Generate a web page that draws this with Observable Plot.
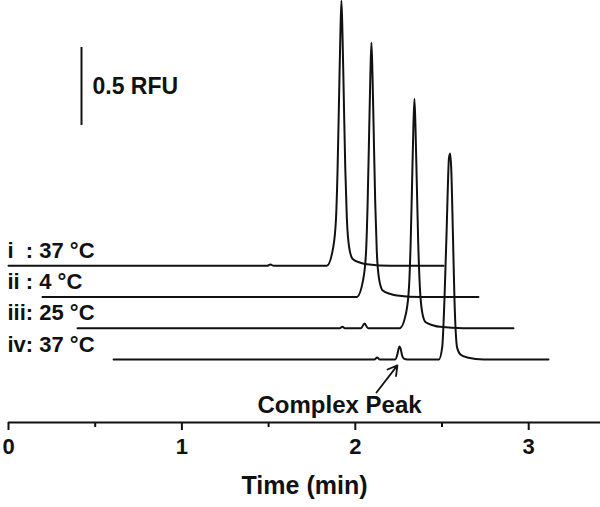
<!DOCTYPE html>
<html>
<head>
<meta charset="utf-8">
<script src="https://cdn.jsdelivr.net/npm/d3@7"></script>
<script src="https://cdn.jsdelivr.net/npm/@observablehq/plot@0.6"></script>
<style>
  html, body { margin: 0; padding: 0; background: #fff; }
  svg text { white-space: pre; }
</style>
</head>
<body>
<div id="chart"></div>
<script>
// ---- data (time in min as drawn on the axis, signal in RFU above each trace's baseline) ----
const traceIds = ["i", "ii", "iii", "iv"];
const traceLabels = ["i  : 37 °C", "ii : 4 °C", "iii: 25 °C", "iv: 37 °C"];
const traceOffsets = [0.6, 0.4, 0.2, 0]; // vertical stacking offsets (RFU)

const timeI = [0, 1.49, 1.511, 1.53, 1.835, 1.872, 1.889, 1.898, 1.906, 1.914, 1.920, 1.926, 1.934, 1.942, 1.951, 1.965, 1.985, 2.030, 2.068, 2.203, 2.509];
const rfuI  = [0, 0, 0.008, 0, 0, 0.115, 0.31, 0.63, 1.06, 1.49, 1.70, 1.49, 1.06, 0.63, 0.31, 0.115, 0.044, 0.02, 0.01, 0, 0];

const timeII = [0.196, 2.008, 2.045, 2.062, 2.071, 2.079, 2.087, 2.093, 2.099, 2.107, 2.115, 2.124, 2.138, 2.158, 2.203, 2.241, 2.376, 2.71];
const rfuII  = [0, 0, 0.11, 0.29, 0.60, 1.01, 1.43, 1.63, 1.43, 1.01, 0.60, 0.29, 0.11, 0.042, 0.02, 0.01, 0, 0];

const timeIII = [0.398, 1.91, 1.926, 1.94, 2.033, 2.053, 2.073, 2.256, 2.293, 2.310, 2.319, 2.327, 2.335, 2.341, 2.347, 2.355, 2.363, 2.372, 2.386, 2.406, 2.451, 2.489, 2.624, 2.912];
const rfuIII  = [0, 0, 0.01, 0, 0, 0.03, 0, 0, 0.10, 0.27, 0.54, 0.91, 1.29, 1.47, 1.29, 0.91, 0.54, 0.27, 0.10, 0.038, 0.018, 0.009, 0, 0];

const timeIV = [0.606, 2.11, 2.126, 2.14, 2.23, 2.243, 2.25, 2.255, 2.261, 2.27, 2.28, 2.30, 2.482, 2.501, 2.514, 2.526, 2.534, 2.540, 2.547, 2.553, 2.563, 2.572, 2.587, 2.606, 2.645, 2.741, 3.114];
const rfuIV  = [0, 0, 0.013, 0, 0, 0.035, 0.07, 0.083, 0.07, 0.025, 0.005, 0, 0, 0.077, 0.38, 0.80, 1.12, 1.29, 1.32, 1.23, 0.80, 0.38, 0.077, 0.032, 0.013, 0, 0];

const majorTicks = [0, 1, 2, 3];
const minorTicks = [0.5, 1.5, 2.5];
const xLabel = "Time (min)";

const scaleBarTime = 0.421;      // min
const scaleBarFrom = 1.5;        // RFU
const scaleBarSize = 0.5;        // RFU
const scaleBarText = "0.5 RFU";

const complexPeakText = "Complex Peak";
const complexTextPos = {t: 1.436, v: -0.295};
const complexArrow = {t1: 2.122, v1: -0.212, t2: 2.243, v2: -0.038};

const xDomain = [0, 3.414];
const yDomain = [-0.404, 2.301];

// ---- build tables ----
const times = [timeI, timeII, timeIII, timeIV];
const rfus = [rfuI, rfuII, rfuIII, rfuIV];
const rows = [];
traceIds.forEach((id, k) => {
  times[k].forEach((t, j) => rows.push({trace: id, t, v: rfus[k][j] + traceOffsets[k]}));
});
const labelRows = traceIds.map((id, k) => ({label: traceLabels[k], t: times[0][0], v: traceOffsets[k]}));

const ink = "#111";
const font = "'Liberation Sans', Arial, Helvetica, sans-serif";

const chart = Plot.plot({
  width: 600,
  height: 507,
  marginLeft: 8,
  marginRight: 0,
  marginTop: 0,
  marginBottom: 85,
  x: {domain: xDomain},
  y: {domain: yDomain, axis: null},
  style: {fontFamily: font, color: ink, background: "#fff", overflow: "visible"},
  marks: [
    Plot.ruleY([yDomain[0]], {stroke: ink, strokeWidth: 2}),
    Plot.axisX(majorTicks, {tickSize: 8, tickPadding: 8, tickFormat: (d) => String(d), fontSize: 22, fontWeight: "bold", strokeWidth: 2, stroke: ink, fill: ink, label: null}),
    Plot.axisX(minorTicks, {tickSize: 5, tickFormat: () => "", strokeWidth: 2, stroke: ink, label: null}),
    Plot.text([xLabel], {frameAnchor: "bottom", dy: 71, fontSize: 25, fontWeight: "bold", fill: ink}),
    Plot.line(rows, {x: "t", y: "v", z: "trace", stroke: ink, strokeWidth: 2, curve: "monotone-x"}),
    Plot.text(labelRows, {x: "t", y: "v", text: "label", textAnchor: "start", dy: -15, dx: -1, fontSize: 22, fontWeight: "bold", fill: ink}),
    Plot.ruleX([scaleBarTime], {y1: scaleBarFrom, y2: scaleBarFrom + scaleBarSize, stroke: ink, strokeWidth: 2}),
    Plot.text([scaleBarText], {x: scaleBarTime, y: scaleBarFrom + scaleBarSize / 2, textAnchor: "start", dx: 11, fontSize: 23, fontWeight: "bold", fill: ink}),
    Plot.arrow([complexArrow], {x1: "t1", y1: "v1", x2: "t2", y2: "v2", stroke: ink, strokeWidth: 1.8, headLength: 9}),
    Plot.text([complexPeakText], {x: complexTextPos.t, y: complexTextPos.v, textAnchor: "start", fontSize: 24, fontWeight: "bold", fill: ink})
  ]
});
document.getElementById("chart").appendChild(chart);
</script>
</body>
</html>
